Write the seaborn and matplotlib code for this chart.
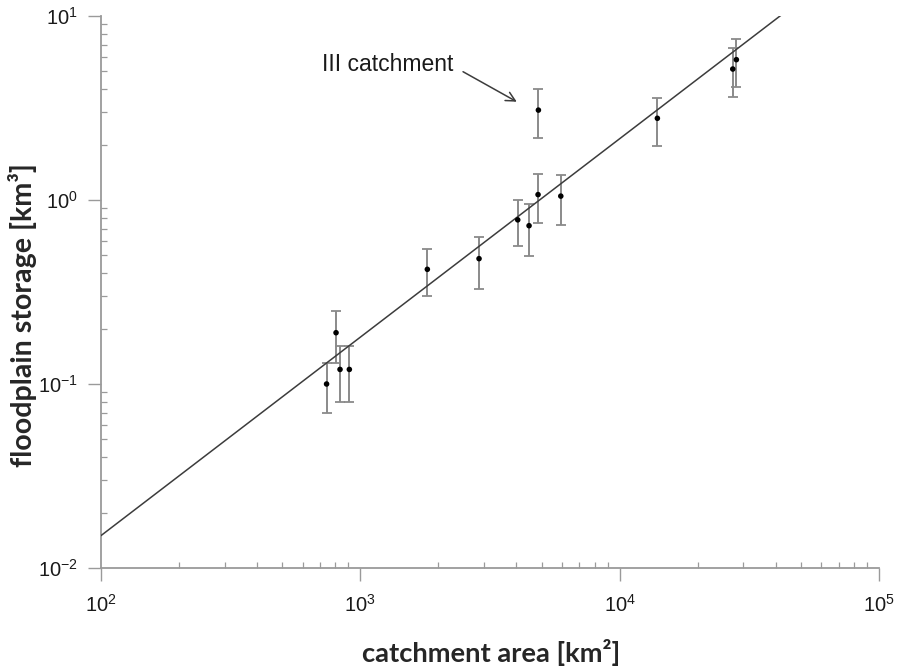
import numpy as np
import matplotlib
matplotlib.use("Agg")
import matplotlib.pyplot as plt
import matplotlib.ticker as mticker
import seaborn as sns

# Catchment area [km²], floodplain storage [km³] and its uncertainty
area = [741, 806, 835, 907, 1813, 2869, 4045, 4473, 4845, 4860, 5929, 13977, 27300, 28184]
storage = [0.10, 0.19, 0.12, 0.12, 0.42, 0.48, 0.78, 0.725, 1.07, 3.08, 1.05, 2.78, 5.15, 5.79]
storage_err = [0.03, 0.06, 0.04, 0.04, 0.12, 0.15, 0.22, 0.23, 0.32, 0.92, 0.32, 0.82, 1.53, 1.68]

# Power-law fit: storage = coef * area ** exponent
fit_coef = 1.045e-4
fit_exponent = 1.0785
fit_range = [100, 4.2e4]

# Outlier annotation
outlier_label = "III catchment"

sns.set_theme(style="ticks")
plt.rcParams["font.family"] = ["Liberation Sans", "DejaVu Sans"]
plt.rcParams["mathtext.fontset"] = "custom"
plt.rcParams["mathtext.rm"] = "Liberation Sans"
plt.rcParams["mathtext.it"] = "Liberation Sans:italic"
plt.rcParams["mathtext.bf"] = "Liberation Sans:bold"

fig = plt.figure(figsize=(8.99, 6.69), dpi=100)
ax = fig.add_axes([101 / 899, 1 - 568 / 669, 778 / 899, 552 / 669])

df_pts = {"area": area, "storage": storage}
ax.errorbar(area, storage, yerr=storage_err, fmt="none", ecolor="#8a8a8a",
            elinewidth=1.4, capsize=3.4, capthick=1.3, zorder=2)

fit_x = np.geomspace(fit_range[0], fit_range[1], 60)
fit_y = fit_coef * fit_x ** fit_exponent
sns.lineplot(x=fit_x, y=fit_y, ax=ax, color="#3c3c3c", linewidth=1.1, zorder=3)

sns.scatterplot(data=df_pts, x="area", y="storage", ax=ax, color="black",
                s=16, edgecolor="none", zorder=4)

ax.set_xscale("log")
ax.set_yscale("log")
ax.set_xlim(1e2, 1e5)
ax.set_ylim(1e-2, 1e1)

ax.xaxis.set_major_locator(mticker.LogLocator(base=10, numticks=10))
ax.yaxis.set_major_locator(mticker.LogLocator(base=10, numticks=10))
ax.xaxis.set_minor_locator(mticker.LogLocator(base=10, subs=np.arange(2, 10), numticks=20))
ax.yaxis.set_minor_locator(mticker.LogLocator(base=10, subs=np.arange(2, 10), numticks=20))
ax.xaxis.set_minor_formatter(mticker.NullFormatter())
ax.yaxis.set_minor_formatter(mticker.NullFormatter())

axis_grey = "#9a9a9a"
for side in ["top", "right"]:
    ax.spines[side].set_visible(False)
for side in ["left", "bottom"]:
    ax.spines[side].set_color(axis_grey)
    ax.spines[side].set_linewidth(1.3)

ax.tick_params(which="major", direction="out", length=9.4, width=1.0,
               color=axis_grey, labelsize=14.5, labelcolor="#1a1a1a")
ax.tick_params(axis="x", which="major", pad=9)
ax.tick_params(axis="y", which="major", pad=7)
ax.tick_params(which="minor", direction="in", length=4.3, width=0.9, color=axis_grey)

label_font = dict(family=["Lato", "DejaVu Sans"], weight="bold", size=19.7)
ax.set_xlabel("catchment area [km²]", **label_font)
ax.set_ylabel("floodplain storage [km³]", **{**label_font, "size": 20.6})
ax.xaxis.label.set_ha("left")
ax.xaxis.label.set_va("baseline")
ax.xaxis.set_label_coords(0.3351, -0.1703)
ax.yaxis.label.set_ha("left")
ax.yaxis.label.set_va("center")
ax.yaxis.set_label_coords(-0.1003, 0.1835)

ax.text(710, 5.42, outlier_label, ha="left", va="center", fontsize=16.5, color="#1a1a1a")
ax.annotate("", xy=(4011, 3.42), xytext=(2489, 4.98),
            arrowprops=dict(arrowstyle="->,head_length=0.55,head_width=0.28",
                            color="#3c3c3c", lw=1.1, shrinkA=0, shrinkB=0))

ax.set_facecolor("white")
fig.patch.set_facecolor("white")
fig.savefig("out.png", dpi=100, facecolor="white")
